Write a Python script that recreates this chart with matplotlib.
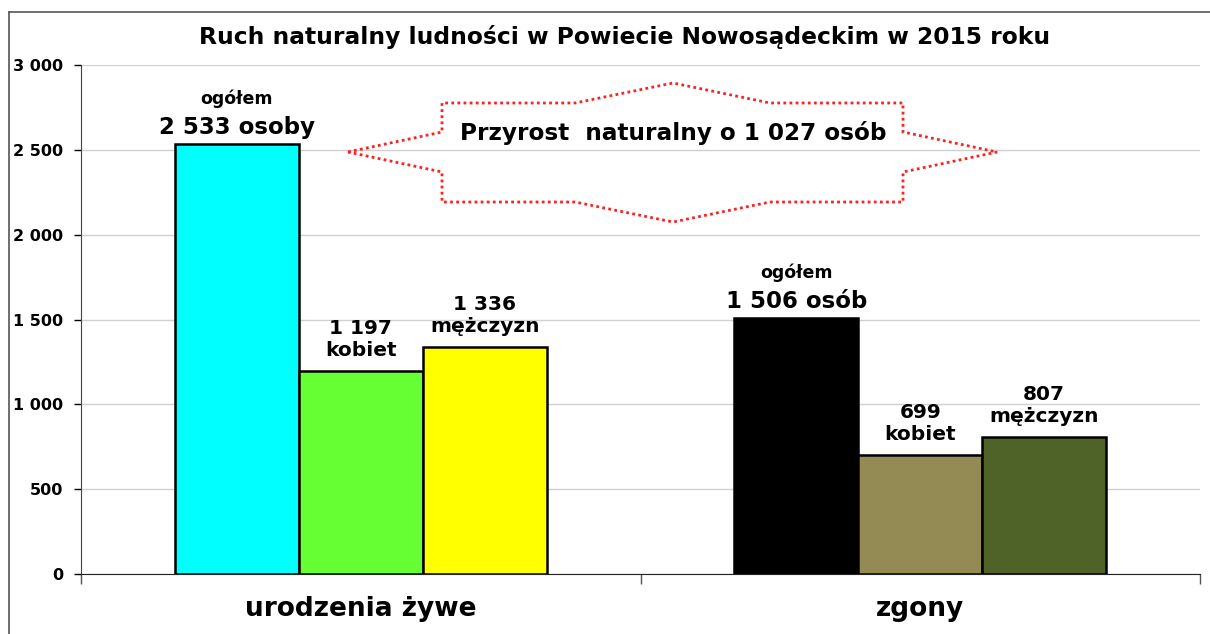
import numpy as np
import matplotlib
matplotlib.use("Agg")
import matplotlib.pyplot as plt
from matplotlib.patches import Polygon
from matplotlib.ticker import FuncFormatter

plt.rcParams['font.family'] = ['DejaVu Sans']

categories = ["urodzenia żywe", "zgony"]
values = [[2533, 1197, 1336],
          [1506, 699, 807]]
colors = [["#00FFFF", "#66FF33", "#FFFF00"],
          ["#000000", "#948A54", "#4F6228"]]
labels = [["2 533 osoby", "1 197\nkobiet", "1 336\nmężczyzn"],
          ["1 506 osób", "699\nkobiet", "807\nmężczyzn"]]
title = "Ruch naturalny ludności w Powiecie Nowosądeckim w 2015 roku"
note = "Przyrost  naturalny o 1 027 osób"

W, H = 1210, 634
fig = plt.figure(figsize=(W / 100, H / 100), dpi=100)
ax = fig.add_axes([81 / W, 1 - 574 / H, (1200 - 81) / W, (574 - 65) / H])

bw = 124 / 559.5
for i, grp in enumerate(values):
    for j, v in enumerate(grp):
        x = i + (j - 1) * bw
        ax.bar(x, v, width=bw, color=colors[i][j], edgecolor="black",
               linewidth=1.8, zorder=3)
        if j == 0:
            ax.annotate(labels[i][j], (x, v), xytext=(0, 4), textcoords="offset points",
                        ha="center", va="bottom", fontsize=16.5, fontweight="bold")
            ax.annotate("ogółem", (x, v), xytext=(0, 26), textcoords="offset points",
                        ha="center", va="bottom", fontsize=12.5, fontweight="bold")
        else:
            ax.annotate(labels[i][j], (x, v), xytext=(0, 11), textcoords="offset points",
                        ha="center", va="baseline", fontsize=14.5, fontweight="bold",
                        linespacing=1.2)

ax.set_xlim(-0.5, 1.5)
ax.set_ylim(0, 3000)
ax.set_yticks(np.arange(0, 3001, 500))
ax.yaxis.set_major_formatter(FuncFormatter(lambda v, p: f"{int(v):,}".replace(",", " ")))
ax.grid(axis="y", color="#d0d0d0", linewidth=1, zorder=0)
ax.set_xticks([0, 1])
ax.set_xticklabels(categories, fontsize=19, fontweight="bold")
ax.tick_params(axis="x", length=0, pad=16)
ax.set_xticks([-0.5, 0.5, 1.5], minor=True)
ax.tick_params(axis="x", which="minor", length=7, width=1, color="#555555")
ax.tick_params(axis="y", length=5, width=1, labelsize=11.5, pad=8)
for lbl in ax.get_yticklabels():
    lbl.set_fontweight("bold")
for s in ["top", "right"]:
    ax.spines[s].set_visible(False)
ax.spines["left"].set_color("#444444")
ax.spines["bottom"].set_color("#222222")

fig.text(625 / W, 1 - 37 / H, title, ha="center", va="center",
         fontsize=16.8, fontweight="bold")

# star shape around the note
pts = [(348, 152), (442, 132), (442, 103), (575, 103), (673, 83), (770, 103),
       (903, 103), (903, 132), (997, 152), (903, 172), (903, 202), (770, 202),
       (673, 222), (575, 202), (442, 202), (442, 172)]
pts = [(x / W, 1 - y / H) for x, y in pts]
fig.patches.append(Polygon(pts, closed=True, fill=False, edgecolor="#FF2020",
                           linestyle=(0, (1, 1.2)), linewidth=2,
                           transform=fig.transFigure))
fig.text(673 / W, 1 - 133 / H, note, ha="center", va="center",
         fontsize=16.7, fontweight="bold")

# outer frame (top and left)
fig.add_artist(plt.Line2D([9 / W, 1], [1 - 12 / H, 1 - 12 / H], color="#555555", lw=1.2,
                          transform=fig.transFigure))
fig.add_artist(plt.Line2D([9 / W, 9 / W], [0, 1 - 12 / H], color="#555555", lw=1.2,
                          transform=fig.transFigure))

fig.savefig("out.png", dpi=100)
